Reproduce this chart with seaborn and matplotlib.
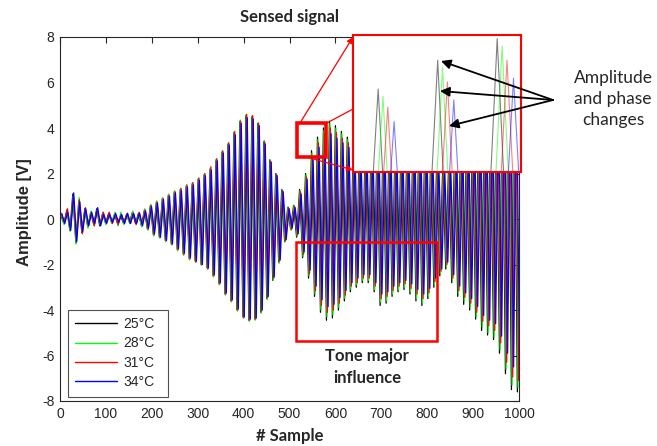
import numpy as np
import pandas as pd
import matplotlib
matplotlib.use("Agg")
import matplotlib.pyplot as plt
import seaborn as sns
from matplotlib.patches import Rectangle, FancyArrowPatch

# ---- sensed signal: successive extrema of each trace (V) ----
temperatures = ["25°C", "28°C", "31°C", "34°C"]
line_colors = ["#000000", "#00ff00", "#ff0000", "#0000ff"]
# delay of each trace relative to the 25°C one (phase change):
# a fixed lag in samples plus a time stretch
lag_offset = [0.0, 0.6, 1.2, 1.8]
time_stretch = [0.0, 0.0008, 0.0016, 0.003]
half_period = 6.5      # samples between successive extrema
first_extremum = 2.0   # sample index of the first extremum

extrema_25 = [
    0.15, -0.2, 0.4, -0.5, 1.1, -1.05, 0.8, -0.6, 0.45, -0.35,
    0.3, -0.25, 0.45, -0.3, 0.25, -0.2, 0.25, -0.15, 0.2, -0.2,
    0.15, -0.2, 0.2, -0.15, 0.3, -0.2, 0.25, -0.3, 0.4, -0.45,
    0.6, -0.7, 0.75, -0.8, 0.9, -0.95, 1.05, -1.1, 1.2, -1.35,
    1.3, -1.55, 1.45, -1.75, 1.55, -1.85, 1.75, -2.0, 1.95, -2.15,
    2.2, -2.5, 2.6, -2.85, 2.95, -3.3, 3.3, -3.6, 3.8, -4.0,
    4.3, -4.3, 4.55, -4.45, 4.5, -4.4, 4.2, -4.1, 3.4, -3.5,
    2.6, -2.7, 2.0, -1.9, 1.3, -1.0, 0.5, -0.45, 0.6, -0.8,
    1.3, -1.7, 2.0, -2.6, 3.0, -3.4, 3.6, -4.1, 4.0, -4.45,
    4.3, -4.35, 4.1, -4.0, 3.85, -3.6, 3.6, -3.2, 3.4, -3.0,
    3.2, -2.8, 3.2, -2.8, 3.4, -3.2, 3.6, -3.8, 3.6, -3.7,
    3.4, -3.4, 3.2, -3.2, 3.2, -3.1, 3.3, -3.3, 3.5, -3.6,
    3.7, -3.8, 3.6, -3.5, 3.2, -3.0, 2.8, -2.5, 2.4, -2.2,
    2.6, -2.8, 3.2, -3.4, 3.6, -3.75, 3.9, -4.0, 4.2, -4.4,
    4.6, -4.9, 5.0, -5.1, 5.2, -5.3, 5.6, -5.9, 6.2, -6.8,
    7.0, -7.5, 7.2, -7.6,
]
extrema_28 = [
    0.2, -0.25, 0.35, -0.55, 1.0, -1.1, 0.95, -0.55, 0.4, -0.4,
    0.35, -0.3, 0.4, -0.25, 0.3, -0.25, 0.2, -0.2, 0.3, -0.3,
    0.3, -0.25, 0.15, -0.2, 0.35, -0.15, 0.2, -0.35, 0.45, -0.5,
    0.65, -0.75, 0.8, -0.85, 0.95, -1.0, 1.1, -1.15, 1.25, -1.4,
    1.35, -1.6, 1.5, -1.8, 1.6, -1.9, 1.8, -2.05, 2.0, -2.2,
    2.25, -2.55, 2.65, -2.9, 3.0, -3.35, 3.35, -3.65, 3.85, -4.05,
    4.35, -4.35, 4.6, -4.5, 4.55, -4.45, 4.25, -4.15, 3.45, -3.55,
    2.6, -2.7, 2.0, -1.95, 1.3, -1.0, 0.55, -0.5, 0.6, -0.75,
    1.25, -1.65, 1.95, -2.5, 2.9, -3.3, 3.5, -4.0, 3.9, -4.3,
    4.2, -4.2, 4.0, -3.9, 3.75, -3.5, 3.5, -3.1, 3.3, -2.9,
    3.1, -2.7, 3.1, -2.7, 3.3, -3.1, 3.5, -3.65, 3.5, -3.6,
    3.3, -3.3, 3.1, -3.1, 3.1, -3.0, 3.2, -3.2, 3.4, -3.5,
    3.6, -3.7, 3.5, -3.4, 3.1, -2.9, 2.7, -2.4, 2.3, -2.1,
    2.5, -2.7, 3.1, -3.3, 3.5, -3.6, 3.8, -3.9, 4.1, -4.3,
    4.5, -4.75, 4.9, -5.0, 5.1, -5.2, 5.5, -5.75, 6.1, -6.6,
    6.9, -7.3, 7.1, -7.4,
]
extrema_31 = [
    0.2, -0.15, 0.45, -0.45, 1.0, -0.95, 0.85, -0.65, 0.5, -0.3,
    0.25, -0.3, 0.4, -0.2, 0.3, -0.15, 0.3, -0.2, 0.15, -0.25,
    0.2, -0.15, 0.25, -0.2, 0.25, -0.25, 0.3, -0.25, 0.4, -0.45,
    0.6, -0.7, 0.75, -0.8, 0.9, -0.95, 1.05, -1.1, 1.2, -1.35,
    1.35, -1.55, 1.5, -1.75, 1.6, -1.9, 1.8, -2.0, 2.0, -2.2,
    2.3, -2.5, 2.65, -2.85, 3.0, -3.3, 3.35, -3.6, 3.85, -4.0,
    4.3, -4.35, 4.6, -4.45, 4.55, -4.4, 4.2, -4.05, 3.4, -3.45,
    2.55, -2.6, 1.95, -1.85, 1.25, -0.95, 0.5, -0.45, 0.55, -0.7,
    1.2, -1.55, 1.85, -2.4, 2.75, -3.15, 3.35, -3.8, 3.7, -4.1,
    4.0, -4.0, 3.8, -3.7, 3.55, -3.35, 3.35, -2.95, 3.15, -2.8,
    2.95, -2.6, 2.95, -2.6, 3.15, -2.95, 3.35, -3.5, 3.35, -3.4,
    3.15, -3.15, 2.95, -2.95, 2.95, -2.85, 3.05, -3.05, 3.25, -3.3,
    3.4, -3.5, 3.3, -3.25, 2.95, -2.75, 2.6, -2.3, 2.2, -2.0,
    2.4, -2.6, 2.95, -3.15, 3.35, -3.45, 3.6, -3.7, 3.9, -4.1,
    4.25, -4.5, 4.6, -4.7, 4.8, -4.9, 5.2, -5.45, 5.7, -6.3,
    6.5, -6.95, 6.7, -7.1,
]
extrema_34 = [
    0.25, -0.2, 0.3, -0.5, 1.15, -1.0, 0.75, -0.55, 0.45, -0.3,
    0.3, -0.2, 0.5, -0.3, 0.2, -0.2, 0.2, -0.15, 0.25, -0.15,
    0.2, -0.2, 0.25, -0.2, 0.25, -0.2, 0.25, -0.3, 0.35, -0.4,
    0.55, -0.65, 0.7, -0.8, 0.85, -0.95, 1.0, -1.1, 1.15, -1.3,
    1.25, -1.5, 1.4, -1.7, 1.5, -1.85, 1.7, -2.0, 1.9, -2.15,
    2.15, -2.45, 2.55, -2.8, 2.9, -3.25, 3.25, -3.55, 3.7, -3.95,
    4.2, -4.3, 4.45, -4.4, 4.4, -4.35, 4.1, -4.0, 3.3, -3.4,
    2.5, -2.55, 1.9, -1.8, 1.2, -0.9, 0.45, -0.4, 0.5, -0.65,
    1.1, -1.45, 1.75, -2.25, 2.6, -2.95, 3.15, -3.55, 3.45, -3.85,
    3.75, -3.75, 3.55, -3.45, 3.35, -3.15, 3.15, -2.8, 2.95, -2.6,
    2.8, -2.45, 2.8, -2.45, 2.95, -2.8, 3.15, -3.3, 3.15, -3.2,
    2.95, -2.95, 2.8, -2.8, 2.8, -2.7, 2.85, -2.85, 3.05, -3.1,
    3.2, -3.3, 3.1, -3.05, 2.8, -2.6, 2.45, -2.2, 2.1, -1.9,
    2.25, -2.45, 2.8, -2.95, 3.15, -3.25, 3.4, -3.5, 3.65, -3.85,
    4.0, -4.25, 4.35, -4.45, 4.5, -4.6, 4.9, -5.15, 5.4, -5.9,
    6.1, -6.5, 6.3, -6.7,
]
traces = [extrema_25, extrema_28, extrema_31, extrema_34]

x_ticks = list(range(0, 1001, 100))
y_ticks = list(range(-8, 9, 2))

# long-form table for seaborn
frames = []
for label, values, lag, stretch in zip(temperatures, traces, lag_offset,
                                       time_stretch):
    idx = np.arange(len(values))
    frames.append(pd.DataFrame({
        "sample": (first_extremum + half_period * idx) * (1.0 + stretch) + lag,
        "amplitude": values,
        "temperature": label,
    }))
signal = pd.concat(frames, ignore_index=True)

sns.set_theme(style="white")
plt.rcParams["font.family"] = ["Liberation Sans", "DejaVu Sans"]
plt.rcParams["axes.unicode_minus"] = False

W, H = 657, 446
fig = plt.figure(figsize=(W / 100, H / 100), dpi=100)


def fx(px):
    return px / W


def fy(py):
    return 1 - py / H


ax = fig.add_axes([fx(60), fy(401), 459 / W, 364 / H])
sns.lineplot(data=signal, x="sample", y="amplitude", hue="temperature",
             hue_order=temperatures, palette=line_colors, estimator=None,
             linewidth=0.9, ax=ax)
ax.set_xlim(0, 1000)
ax.set_ylim(-8, 8)
ax.set_xticks(x_ticks)
ax.set_yticks(y_ticks)
ax.tick_params(direction="in", top=True, right=True, length=4, width=0.8,
               labelsize=10, pad=4, colors="#262626")
for s in ax.spines.values():
    s.set_color("#262626")
    s.set_linewidth(0.8)

ax.set_xlabel("# Sample", fontsize=12, fontweight="bold", family="Lato")
ax.xaxis.set_label_coords(0.5, -0.075)
ax.set_ylabel("Amplitude [V]", fontsize=12, fontweight="bold")
ax.yaxis.set_label_coords(-0.062, 0.52)
ax.text(0.5, 1.055, "Sensed signal", transform=ax.transAxes, ha="center",
        va="center", fontsize=12, fontweight="bold", family="Lato")

handles, labels = ax.get_legend_handles_labels()
leg = ax.legend(handles, labels, loc="lower left",
                bbox_to_anchor=(0.017, 0.012, 0.218, 0.236), mode="expand",
                borderaxespad=0, frameon=True, fancybox=False,
                edgecolor="#262626", fontsize=10, handlelength=3.0,
                handletextpad=0.45, labelspacing=0.38, borderpad=0.55)
leg.get_frame().set_linewidth(0.8)
for ln in leg.get_lines():
    ln.set_linewidth(1.0)

# magnified view of the first peaks of the second wave packet
ins = fig.add_axes([fx(353), fy(172), 168 / W, 137 / H])
sns.lineplot(data=signal, x="sample", y="amplitude", hue="temperature",
             hue_order=temperatures, palette=line_colors, estimator=None,
             linewidth=0.8, alpha=0.5, legend=False, ax=ins)
ins.set_xlim(555.5, 592.2)
ins.set_ylim(2.45, 4.35)
ins.set_xticks([])
ins.set_yticks([])
ins.set_xlabel("")
ins.set_ylabel("")
ins.set_facecolor("white")
for s in ins.spines.values():
    s.set_color("red")
    s.set_linewidth(1.5)

# red markers: zoom box, connectors and the tone-influence box
fig.add_artist(Rectangle((fx(297), fy(157)), 29 / W, 34 / H, fill=False,
                         ec="red", lw=2.6, transform=fig.transFigure))
fig.add_artist(Rectangle((fx(296), fy(341)), 141 / W, 99 / H, fill=False,
                         ec="red", lw=1.8, transform=fig.transFigure))
fig.add_artist(FancyArrowPatch((fx(300), fy(123)), (fx(353), fy(37)),
                               arrowstyle="-|>", mutation_scale=9,
                               color="red", lw=0.9, shrinkA=0, shrinkB=0,
                               transform=fig.transFigure))
fig.add_artist(FancyArrowPatch((fx(325), fy(124)), (fx(353), fy(109)),
                               arrowstyle="-", color="red", lw=0.9,
                               shrinkA=0, shrinkB=0,
                               transform=fig.transFigure))
fig.add_artist(FancyArrowPatch((fx(310), fy(158)), (fx(353), fy(170)),
                               arrowstyle="-|>", mutation_scale=9,
                               color="red", lw=0.9, shrinkA=0, shrinkB=0,
                               transform=fig.transFigure))

# black pointers to the peaks of the magnified view
for tip in [(441, 61), (440, 91), (449, 126)]:
    fig.add_artist(FancyArrowPatch((fx(553), fy(100)), (fx(tip[0]), fy(tip[1])),
                                   arrowstyle="-|>", mutation_scale=14,
                                   color="black", lw=1.3, shrinkA=0, shrinkB=0,
                                   transform=fig.transFigure))

fig.text(fx(613), fy(99), "Amplitude\nand phase\nchanges", ha="center",
         va="center", fontsize=12.5, family="Lato", linespacing=1.35)
fig.text(fx(367), fy(367), "Tone major\ninfluence", ha="center",
         va="center", fontsize=12, fontweight="bold", family="Lato",
         linespacing=1.45)

fig.savefig("out.png", dpi=100)
